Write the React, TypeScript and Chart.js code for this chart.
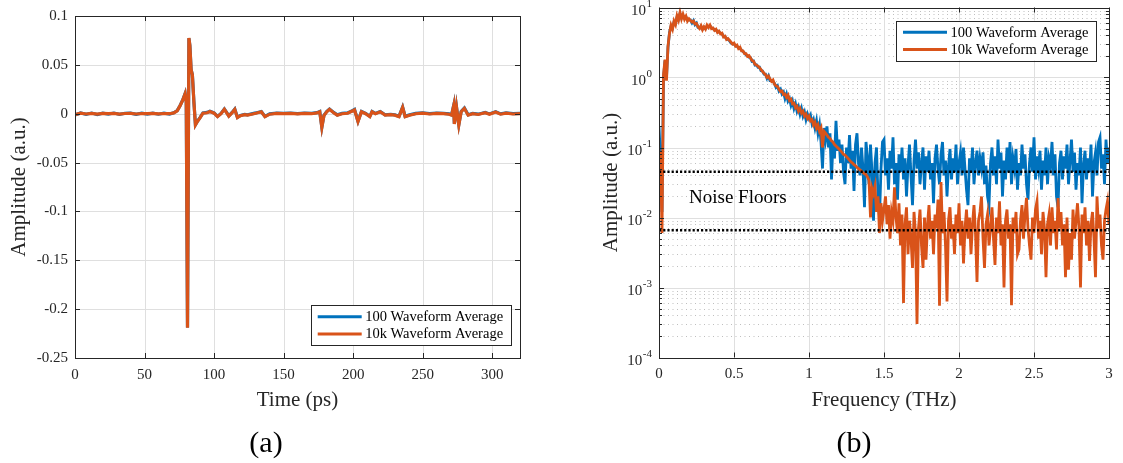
import React, { useEffect, useRef } from 'react';
import { Chart, registerables } from 'chart.js';

Chart.register(...registerables);

const SERIF = '"Liberation Serif", "Times New Roman", Times, serif';
const BLUE = '#0072BD';
const ORANGE = '#D95319';
const AXIS = '#262626';
const GRID = '#dfdfdf';
const MINOR_GRID = '#bfbfbf';

// ---------- Panel (a): time domain ----------
const timePs = [
  0, 4, 8, 12, 16, 20, 24, 28, 32, 36,
  40, 44, 48, 52, 56, 60, 64, 68, 71, 73.5,
  75.5, 77.5, 79.2, 80.0, 80.9, 81.9, 82.6, 83.5, 84.4, 85.5,
  86.6, 88, 90, 92, 95, 97, 100, 102.5, 105, 107.4,
  109, 110.6, 113, 114.9, 116.8, 119, 122, 124, 127, 130,
  134, 136.6, 140, 145, 150, 155, 160, 165, 170, 174,
  176, 177.5, 179, 181, 183, 186, 188.6, 192, 196, 199.8,
  201, 203.5, 206, 209, 212, 213.6, 216, 219.5, 223, 227,
  230, 233, 235.6, 237.4, 240.6, 245, 250, 255, 260, 265,
  269, 270.8, 272.3, 272.8, 274.3, 276, 277.7, 280, 282.7, 286,
  290, 295, 298, 302.5, 306, 310, 315, 320,
];
const amp100 = [
  -0.0012, 0.0008, -0.0006, 0.0007, -0.0008, 0.0006, -0.0003, 0.0007, -0.0007, 0.0005,
  0.0006, -0.0006, 0.0005, -0.0003, 0.0006, -0.0005, 0.0005, -0.0003, 0.001, 0.0032,
  0.0082, 0.0142, 0.0207, 0.0122, -0.2188, 0.0772, 0.0698, 0.0452, 0.0398, 0.0122,
  -0.0112, -0.0078, -0.0038, 0.0008, 0.0013, 0.0025, 0.0008, -0.0027, 0.0003, 0.0048,
  0.0013, -0.0022, 0.0013, 0.0048, -0.0037, -0.0017, -0.0007, -0.0012, -0.0002, 0.0008,
  0.0023, -0.0027, -0.0002, 0.0006, 0.0003, 0.0007, 0.0001, 0.0006, 0.0003, 0.0011,
  0.0023, -0.0137, -0.0017, 0.0023, 0.0048, 0.0013, -0.0012, 0.0003, 0.0008, 0.0033,
  0.0043, -0.0077, 0.0023, 0.0003, -0.0027, 0.0023, 0.0003, 0.0023, -0.0012, -0.0007,
  -0.0012, -0.0027, 0.0068, -0.0027, -0.0012, 0.0003, 0.0008, 0, 0.0006, 0.0003,
  -0.0002, -0.0012, 0.0083, -0.0102, 0.0073, -0.0112, 0.0023, 0.0058, -0.0012, 0.0003,
  -0.0005, 0.0013, -0.0002, 0.0021, -0.0002, 0.0008, 0, 0.0003,
];
const amp10k = [
  -0.001, 0.0005, -0.0003, 0.0004, -0.0005, 0.0003, 0, 0.0004, -0.0004, 0.0002,
  0.0003, -0.0003, 0.0002, 0, 0.0003, -0.0002, 0.0002, 0, 0.0008, 0.003,
  0.008, 0.014, 0.0205, 0.012, -0.219, 0.0775, 0.07, 0.045, 0.04, 0.012,
  -0.0115, -0.008, -0.004, 0.0005, 0.001, 0.0022, 0.0005, -0.003, 0, 0.0045,
  0.001, -0.0025, 0.001, 0.0045, -0.004, -0.002, -0.001, -0.0015, -0.0005, 0.0005,
  0.002, -0.003, -0.0005, 0.0003, 0, 0.0004, -0.0002, 0.0003, 0, 0.0008,
  0.002, -0.014, -0.002, 0.002, 0.0045, 0.001, -0.0015, 0, 0.0005, 0.003,
  0.004, -0.008, 0.002, 0, -0.003, 0.002, 0, 0.002, -0.0015, -0.001,
  -0.0015, -0.003, 0.0065, -0.003, -0.0015, 0, 0.0005, -0.0003, 0.0003, 0,
  -0.0005, -0.0015, 0.008, -0.0105, 0.007, -0.0115, 0.002, 0.0055, -0.0015, 0,
  -0.0008, 0.001, -0.0005, 0.0018, -0.0005, 0.0005, -0.0003, 0,
];
const timeTicks = [0, 50, 100, 150, 200, 250, 300];
const timeTickLabels = ['0', '50', '100', '150', '200', '250', '300'];
const ampTicks = [-0.25, -0.2, -0.15, -0.1, -0.05, 0, 0.05, 0.1];
const ampTickLabels = ['-0.25', '-0.2', '-0.15', '-0.1', '-0.05', '0', '0.05', '0.1'];

// ---------- Panel (b): spectrum ----------
const freqStartTHz = 0;
const freqStepTHz = 0.01;
const spec100 = [
  0.2, 0.07, 0.012, 1.0, 1.75, 1.0, 2.7, 4.4, 5.4, 5.1,
  6.2, 5.9, 7.3, 6.8, 8.2, 7.1, 7.7, 7.0, 7.3, 6.6,
  6.7, 6.6, 6.0, 6.5, 5.7, 6.0, 5.2, 5.1, 5.4, 4.9,
  5.2, 5.0, 5.4, 5.3, 5.5, 5.1, 5.0, 4.8, 4.8, 4.5,
  4.5, 4.3, 4.2, 3.9, 3.8, 3.6, 3.5, 3.35, 3.1, 3.05,
  3.0, 2.85, 2.8, 2.65, 2.6, 2.45, 2.35, 2.25, 2.1, 2.05,
  1.95, 1.92, 1.7, 1.72, 1.5, 1.52, 1.4, 1.4, 1.25, 1.24,
  1.12, 1.12, 0.97, 1.06, 0.9, 0.9, 0.88, 0.82, 0.72, 0.76,
  0.64, 0.68, 0.58, 0.62, 0.5, 0.58, 0.46, 0.5, 0.4, 0.46,
  0.36, 0.42, 0.33, 0.38, 0.3, 0.36, 0.28, 0.32, 0.25, 0.3,
  0.26, 0.29, 0.22, 0.25, 0.19, 0.24, 0.16, 0.21, 0.12, 0.05,
  0.19, 0.13, 0.2, 0.1, 0.16, 0.035, 0.12, 0.07, 0.24, 0.09,
  0.13, 0.06, 0.11, 0.045, 0.03, 0.1, 0.06, 0.15, 0.05, 0.09,
  0.024, 0.11, 0.16, 0.06, 0.04, 0.1, 0.05, 0.014, 0.12, 0.07,
  0.03, 0.11, 0.045, 0.009, 0.06, 0.1, 0.02, 0.01, 0.05, 0.12,
  0.13, 0.04, 0.07, 0.025, 0.09, 0.05, 0.14, 0.03, 0.06, 0.018,
  0.08, 0.045, 0.1, 0.035, 0.07, 0.02, 0.055, 0.11, 0.04, 0.015,
  0.065, 0.13, 0.05, 0.085, 0.03, 0.06, 0.1, 0.025, 0.075, 0.045,
  0.09, 0.035, 0.06, 0.016, 0.07, 0.11, 0.05, 0.03, 0.08, 0.12,
  0.04, 0.065, 0.02, 0.055, 0.095, 0.035, 0.07, 0.045, 0.11, 0.03,
  0.06, 0.085, 0.04, 0.1, 0.05, 0.025, 0.015, 0.07, 0.045, 0.1,
  0.03, 0.06, 0.09, 0.04, 0.07, 0.05, 0.085, 0.03, 0.055, 0.02,
  0.015, 0.06, 0.1, 0.04, 0.075, 0.03, 0.13, 0.05, 0.085, 0.02,
  0.065, 0.035, 0.1, 0.045, 0.12, 0.03, 0.07, 0.05, 0.095, 0.025,
  0.06, 0.04, 0.11, 0.05, 0.08, 0.03, 0.018, 0.06, 0.1, 0.045,
  0.14, 0.035, 0.075, 0.05, 0.09, 0.025, 0.065, 0.04, 0.1, 0.03,
  0.07, 0.055, 0.12, 0.04, 0.08, 0.02, 0.014, 0.06, 0.09, 0.035,
  0.075, 0.05, 0.11, 0.03, 0.065, 0.13, 0.045, 0.085, 0.025, 0.06,
  0.04, 0.1, 0.016, 0.055, 0.09, 0.035, 0.07, 0.045, 0.11, 0.02,
  0.06, 0.085, 0.04, 0.12, 0.14, 0.05, 0.08, 0.03, 0.13, 0.06,
  0.1,
];
const spec10k = [
  0.025, 0.09, 0.006, 1.1, 1.8, 0.9, 2.8, 4.3, 5.6, 4.9,
  6.4, 5.7, 7.6, 6.6, 8.5, 6.9, 8.0, 6.8, 7.5, 6.4,
  6.9, 6.5, 6.2, 6.4, 5.8, 5.9, 5.3, 5.0, 5.5, 4.8,
  5.3, 4.9, 5.6, 5.2, 5.6, 5.0, 5.1, 4.7, 4.9, 4.4,
  4.6, 4.2, 4.3, 3.8, 3.9, 3.5, 3.6, 3.4, 3.2, 3.0,
  3.1, 2.8, 2.9, 2.6, 2.7, 2.4, 2.4, 2.2, 2.2, 2.0,
  2.05, 1.9, 1.75, 1.7, 1.55, 1.5, 1.45, 1.38, 1.3, 1.22,
  1.15, 1.1, 1.0, 1.05, 0.95, 0.88, 0.92, 0.8, 0.76, 0.74,
  0.68, 0.63, 0.64, 0.57, 0.58, 0.52, 0.56, 0.47, 0.49, 0.42,
  0.43, 0.37, 0.39, 0.33, 0.36, 0.31, 0.33, 0.28, 0.3, 0.26,
  0.28, 0.24, 0.25, 0.21, 0.23, 0.19, 0.21, 0.17, 0.19, 0.1,
  0.17, 0.16, 0.15, 0.14, 0.135, 0.125, 0.12, 0.11, 0.105, 0.1,
  0.095, 0.09, 0.085, 0.08, 0.078, 0.074, 0.07, 0.066, 0.062, 0.06,
  0.057, 0.055, 0.052, 0.05, 0.048, 0.046, 0.044, 0.042, 0.041, 0.038,
  0.034, 0.01, 0.026, 0.022, 0.028, 0.012, 0.02, 0.006, 0.016, 0.009,
  0.013, 0.02, 0.008, 0.015, 0.005, 0.012, 0.009, 0.027, 0.01, 0.006,
  0.016, 0.004, 0.011, 0.0006, 0.008, 0.014, 0.003, 0.009, 0.005, 0.0019,
  0.012, 0.006, 0.0003, 0.007, 0.013, 0.004, 0.0019, 0.01, 0.0025, 0.008,
  0.015, 0.005, 0.009, 0.003, 0.011, 0.007, 0.018, 0.00055, 0.032, 0.006,
  0.012, 0.004, 0.00063, 0.009, 0.014, 0.005, 0.008, 0.003, 0.011, 0.006,
  0.016, 0.004, 0.009, 0.0022, 0.007, 0.013, 0.005, 0.01, 0.003, 0.008,
  0.015, 0.006, 0.0012, 0.009, 0.012, 0.02, 0.005, 0.0019, 0.008, 0.011,
  0.004, 0.007, 0.014, 0.005, 0.0021, 0.01, 0.006, 0.017, 0.004, 0.008,
  0.001, 0.009, 0.013, 0.005, 0.008, 0.00056, 0.01, 0.006, 0.012, 0.003,
  0.0035, 0.009, 0.015, 0.005, 0.011, 0.019, 0.007, 0.004, 0.0025, 0.01,
  0.006, 0.013, 0.017, 0.005, 0.009, 0.003, 0.012, 0.007, 0.0014, 0.008,
  0.011, 0.004, 0.014, 0.006, 0.009, 0.0035, 0.019, 0.007, 0.012, 0.004,
  0.008, 0.0014, 0.01, 0.0018, 0.006, 0.0025, 0.013, 0.005, 0.009, 0.016,
  0.007, 0.001, 0.011, 0.006, 0.014, 0.004, 0.009, 0.0024, 0.008, 0.012,
  0.005, 0.0014, 0.02, 0.007, 0.011, 0.004, 0.0025, 0.009, 0.013, 0.017,
  0.008,
];
const freqTicks = [0, 0.5, 1, 1.5, 2, 2.5, 3];
const freqTickLabels = ['0', '0.5', '1', '1.5', '2', '2.5', '3'];
const decadeExponents = [-4, -3, -2, -1, 0, 1];
const minorMultipliers = [2, 3, 4, 5, 6, 7, 8, 9];
const noiseFloors = [0.045, 0.0066];
const noiseLabel = { text: 'Noise Floors', x: 0.2, y: 0.019 };

const legendLabels = ['100 Waveform Average', '10k Waveform Average'];

// ---------- helpers ----------
const px = (v: number) => Math.round(v) + 0.5;

function drawLegend(ctx: CanvasRenderingContext2D, chart: any, bx: number, by: number) {
  const w = 200;
  const h = 40;
  ctx.save();
  ctx.fillStyle = '#ffffff';
  ctx.fillRect(bx, by, w, h);
  ctx.strokeStyle = AXIS;
  ctx.lineWidth = 1;
  ctx.strokeRect(px(bx), px(by), w, h);
  const sets = chart.data.datasets.filter((d: any) => d.inLegend);
  sets.forEach((d: any, i: number) => {
    const cy = by + 11.7 + i * 17.3;
    ctx.strokeStyle = d.borderColor;
    ctx.lineWidth = 3;
    ctx.beginPath();
    ctx.moveTo(bx + 7, cy);
    ctx.lineTo(bx + 51, cy);
    ctx.stroke();
    ctx.fillStyle = '#000';
    ctx.font = `14.5px ${SERIF}`;
    ctx.textAlign = 'left';
    ctx.textBaseline = 'middle';
    ctx.fillText(d.label, bx + 54.5, cy + 0.5);
  });
  ctx.restore();
}

function drawFrame(ctx: CanvasRenderingContext2D, a: any) {
  ctx.save();
  ctx.strokeStyle = AXIS;
  ctx.lineWidth = 1;
  ctx.strokeRect(px(a.left), px(a.top), Math.round(a.right) - Math.round(a.left), Math.round(a.bottom) - Math.round(a.top));
  ctx.restore();
}

function drawXTicks(ctx: CanvasRenderingContext2D, a: any, x: any, values: number[], len: number) {
  ctx.save();
  ctx.strokeStyle = AXIS;
  ctx.lineWidth = 1;
  ctx.beginPath();
  values.forEach((v) => {
    const p = px(x.getPixelForValue(v));
    ctx.moveTo(p, a.bottom);
    ctx.lineTo(p, a.bottom - len);
    ctx.moveTo(p, a.top);
    ctx.lineTo(p, a.top + len);
  });
  ctx.stroke();
  ctx.restore();
}

function drawYTicks(ctx: CanvasRenderingContext2D, a: any, y: any, values: number[], len: number) {
  ctx.save();
  ctx.strokeStyle = AXIS;
  ctx.lineWidth = 1;
  ctx.beginPath();
  values.forEach((v) => {
    const p = px(y.getPixelForValue(v));
    ctx.moveTo(a.left, p);
    ctx.lineTo(a.left + len, p);
    ctx.moveTo(a.right, p);
    ctx.lineTo(a.right - len, p);
  });
  ctx.stroke();
  ctx.restore();
}

const minorValues: number[] = [];
decadeExponents.slice(0, -1).forEach((e) => {
  minorMultipliers.forEach((m) => minorValues.push(m * Math.pow(10, e)));
});
const decadeValues = decadeExponents.map((e) => Math.pow(10, e));

const pluginA = {
  id: 'matlabAxesA',
  beforeDatasetsDraw(chart: any) {
    const { ctx, chartArea: a, scales } = chart;
    ctx.save();
    ctx.strokeStyle = GRID;
    ctx.lineWidth = 1;
    ctx.beginPath();
    timeTicks.forEach((v) => {
      const p = px(scales.x.getPixelForValue(v));
      ctx.moveTo(p, a.top);
      ctx.lineTo(p, a.bottom);
    });
    ampTicks.forEach((v) => {
      const p = px(scales.y.getPixelForValue(v));
      ctx.moveTo(a.left, p);
      ctx.lineTo(a.right, p);
    });
    ctx.stroke();
    ctx.restore();
  },
  afterDatasetsDraw(chart: any) {
    const { ctx, chartArea: a, scales } = chart;
    drawFrame(ctx, a);
    drawXTicks(ctx, a, scales.x, timeTicks, 5);
    drawYTicks(ctx, a, scales.y, ampTicks, 5);
  },
  afterDraw(chart: any) {
    const { ctx, chartArea: a } = chart;
    drawLegend(ctx, chart, a.right - 9.3 - 200, a.bottom - 13 - 40);
  },
};

const pluginB = {
  id: 'matlabAxesB',
  beforeDatasetsDraw(chart: any) {
    const { ctx, chartArea: a, scales } = chart;
    ctx.save();
    ctx.strokeStyle = MINOR_GRID;
    ctx.lineWidth = 1;
    ctx.setLineDash([1, 3.5]);
    ctx.beginPath();
    minorValues.forEach((v) => {
      const p = px(scales.y.getPixelForValue(v));
      ctx.moveTo(a.left, p);
      ctx.lineTo(a.right, p);
    });
    ctx.stroke();
    ctx.setLineDash([]);
    ctx.strokeStyle = GRID;
    ctx.beginPath();
    decadeValues.forEach((v) => {
      const p = px(scales.y.getPixelForValue(v));
      ctx.moveTo(a.left, p);
      ctx.lineTo(a.right, p);
    });
    freqTicks.forEach((v) => {
      const p = px(scales.x.getPixelForValue(v));
      ctx.moveTo(p, a.top);
      ctx.lineTo(p, a.bottom);
    });
    ctx.stroke();
    ctx.restore();
  },
  afterDatasetsDraw(chart: any) {
    const { ctx, chartArea: a, scales } = chart;
    drawFrame(ctx, a);
    drawXTicks(ctx, a, scales.x, freqTicks, 5);
    drawYTicks(ctx, a, scales.y, decadeValues, 5);
    drawYTicks(ctx, a, scales.y, minorValues, 3);
    ctx.save();
    ctx.fillStyle = '#000';
    ctx.font = `19px ${SERIF}`;
    ctx.textAlign = 'left';
    ctx.textBaseline = 'middle';
    ctx.fillText(noiseLabel.text, scales.x.getPixelForValue(noiseLabel.x), scales.y.getPixelForValue(noiseLabel.y));
    ctx.restore();
  },
  afterDraw(chart: any) {
    const { ctx, chartArea: a, scales } = chart;
    ctx.save();
    ctx.fillStyle = AXIS;
    ctx.textBaseline = 'middle';
    ctx.textAlign = 'left';
    const rightEdge = a.left - 7;
    decadeExponents.forEach((e) => {
      const yy = scales.y.getPixelForValue(Math.pow(10, e));
      const expText = String(e);
      ctx.font = `11px ${SERIF}`;
      const ew = ctx.measureText(expText).width;
      ctx.font = `15px ${SERIF}`;
      const bw = ctx.measureText('10').width;
      ctx.fillText('10', rightEdge - ew - bw - 0.5, yy + 4);
      ctx.font = `11px ${SERIF}`;
      ctx.fillText(expText, rightEdge - ew, yy - 3);
    });
    ctx.restore();
    drawLegend(ctx, chart, a.right - 13 - 200, a.top + 13);
  },
};

const tickFont = { family: SERIF, size: 15 };
const titleFont = { family: SERIF, size: 21 };

function configA(): any {
  return {
    type: 'line',
    data: {
      datasets: [
        {
          label: legendLabels[0],
          inLegend: true,
          data: timePs.map((t, i) => ({ x: t, y: amp100[i] })),
          borderColor: BLUE,
          borderWidth: 3.2,
          pointRadius: 0,
          clip: 0,
          order: 1,
        },
        {
          label: legendLabels[1],
          inLegend: true,
          data: timePs.map((t, i) => ({ x: t, y: amp10k[i] })),
          borderColor: ORANGE,
          borderWidth: 3.2,
          pointRadius: 0,
          clip: 0,
          order: 0,
        },
      ],
    },
    options: {
      animation: false,
      responsive: false,
      layout: { padding: { left: 0, top: 12, right: 55, bottom: 0 } },
      plugins: { legend: { display: false }, tooltip: { enabled: false } },
      scales: {
        x: {
          type: 'linear',
          min: 0,
          max: 320,
          afterBuildTicks: (s: any) => { s.ticks = timeTicks.map((v) => ({ value: v })); },
          afterFit: (s: any) => { s.height = 105; },
          grid: { display: false, drawTicks: false },
          border: { display: false },
          ticks: {
            font: tickFont, color: AXIS, padding: 8, maxRotation: 0, autoSkip: false,
            callback: (_v: any, i: number) => timeTickLabels[i],
          },
          title: { display: true, text: 'Time (ps)', font: titleFont, color: AXIS, padding: { top: 0, bottom: 50.4 } },
        },
        y: {
          type: 'linear',
          min: -0.25,
          max: 0.1,
          afterBuildTicks: (s: any) => { s.ticks = ampTicks.map((v) => ({ value: v })); },
          afterFit: (s: any) => { s.width = 75; },
          grid: { display: false, drawTicks: false },
          border: { display: false },
          ticks: {
            font: tickFont, color: AXIS, padding: 7, autoSkip: false,
            callback: (_v: any, i: number) => ampTickLabels[i],
          },
          title: { display: true, text: 'Amplitude (a.u.)', font: titleFont, color: AXIS, padding: { top: 6.4, bottom: 0 } },
        },
      },
    },
    plugins: [pluginA],
  };
}

function configB(): any {
  const toPoints = (arr: number[]) => arr.map((v, i) => ({ x: freqStartTHz + i * freqStepTHz, y: v }));
  const floorSets = noiseFloors.map((lvl) => ({
    label: 'floor',
    inLegend: false,
    data: [{ x: freqTicks[0], y: lvl }, { x: freqTicks[freqTicks.length - 1], y: lvl }],
    borderColor: '#000000',
    borderWidth: 2.5,
    borderDash: [2.2, 2],
    pointRadius: 0,
    clip: 0,
    order: -1,
  }));
  return {
    type: 'line',
    data: {
      datasets: [
        {
          label: legendLabels[0],
          inLegend: true,
          data: toPoints(spec100),
          borderColor: BLUE,
          borderWidth: 2.8,
          pointRadius: 0,
          clip: 0,
          order: 1,
        },
        {
          label: legendLabels[1],
          inLegend: true,
          data: toPoints(spec10k),
          borderColor: ORANGE,
          borderWidth: 2.8,
          pointRadius: 0,
          clip: 0,
          order: 0,
        },
        ...floorSets,
      ],
    },
    options: {
      animation: false,
      responsive: false,
      layout: { padding: { left: 0, top: 7.5, right: 14, bottom: 0 } },
      plugins: { legend: { display: false }, tooltip: { enabled: false } },
      scales: {
        x: {
          type: 'linear',
          min: 0,
          max: 3,
          afterBuildTicks: (s: any) => { s.ticks = freqTicks.map((v) => ({ value: v })); },
          afterFit: (s: any) => { s.height = 105.5; },
          grid: { display: false, drawTicks: false },
          border: { display: false },
          ticks: {
            font: tickFont, color: AXIS, padding: 8, maxRotation: 0, autoSkip: false,
            callback: (_v: any, i: number) => freqTickLabels[i],
          },
          title: { display: true, text: 'Frequency (THz)', font: titleFont, color: AXIS, padding: { top: 0, bottom: 50.4 } },
        },
        y: {
          type: 'logarithmic',
          min: 1e-4,
          max: 10,
          afterBuildTicks: (s: any) => { s.ticks = decadeValues.map((v) => ({ value: v })); },
          afterFit: (s: any) => { s.width = 84; },
          grid: { display: false, drawTicks: false },
          border: { display: false },
          ticks: { display: false },
          title: { display: true, text: 'Amplitude (a.u.)', font: titleFont, color: AXIS, padding: { top: 23.4, bottom: 0 } },
        },
      },
    },
    plugins: [pluginB],
  };
}

const captionStyle = (cx: number): React.CSSProperties => ({
  position: 'absolute',
  left: cx - 50,
  top: 425,
  width: 100,
  textAlign: 'center',
  fontFamily: SERIF,
  fontSize: 30,
  lineHeight: '34px',
  color: '#000',
});

export default function App() {
  const refA = useRef<HTMLCanvasElement>(null);
  const refB = useRef<HTMLCanvasElement>(null);

  useEffect(() => {
    const chartA = new Chart(refA.current as HTMLCanvasElement, configA());
    const chartB = new Chart(refB.current as HTMLCanvasElement, configB());
    return () => {
      chartA.destroy();
      chartB.destroy();
    };
  }, []);

  return (
    <div style={{ position: 'fixed', left: 0, top: 0, width: 1123, height: 463, background: '#fff', overflow: 'hidden' }}>
      <canvas ref={refA} width={575} height={463} style={{ position: 'absolute', left: 0, top: 0 }} />
      <canvas ref={refB} width={548} height={463} style={{ position: 'absolute', left: 575, top: 0 }} />
      <div style={captionStyle(266)}>(a)</div>
      <div style={captionStyle(854)}>(b)</div>
    </div>
  );
}
